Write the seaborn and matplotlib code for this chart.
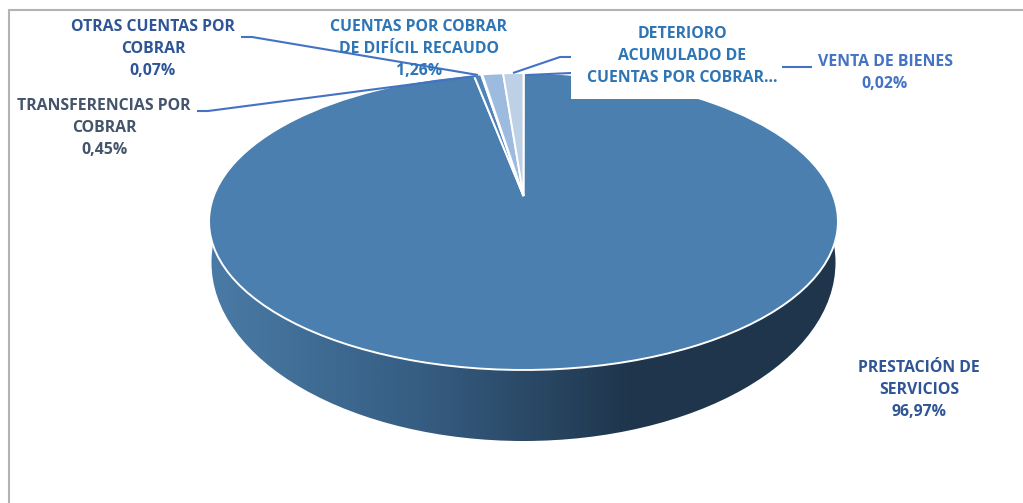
import numpy as np
import matplotlib
matplotlib.use("Agg")
import matplotlib.pyplot as plt
import seaborn as sns
from matplotlib.colors import LinearSegmentedColormap
from matplotlib.patches import Ellipse, Rectangle
from matplotlib.transforms import Transform

categories = ["VENTA DE BIENES", "PRESTACIÓN DE SERVICIOS", "TRANSFERENCIAS POR COBRAR",
              "OTRAS CUENTAS POR COBRAR", "CUENTAS POR COBRAR DE DIFÍCIL RECAUDO",
              "DETERIORO ACUMULADO DE CUENTAS POR COBRAR..."]
values = [0.02, 96.97, 0.45, 0.07, 1.26, 1.23]
slice_colors = ["#dbe5f1", "#4a7fb0", "#4f84b8", "#7da3d0", "#9dbbdf", "#bdd0e6"]
side_stops = ["#4a7ba6", "#3f6c94", "#365d82", "#2b4a68", "#1f364c", "#1e354b", "#1f364c"]

sns.set_theme(style="white")
plt.rcParams["font.family"] = ["Open Sans", "DejaVu Sans"]

W, H = 1023, 503
fig = plt.figure(figsize=(W / 100, H / 100), dpi=100, facecolor="white")
ax = fig.add_axes([0, 0, 1, 1])


class Perspective(Transform):
    """Tilted-disc view: unit pie coordinates to pixel coordinates."""
    input_dims = output_dims = 2
    is_separable = False
    has_inverse = False

    def __init__(self, cx, cy, a, b, k):
        super().__init__()
        self.cx, self.cy, self.a, self.b, self.k = cx, cy, a, b, k

    def transform_non_affine(self, values):
        v = np.asarray(values, dtype=float)
        w = 1 + self.k * v[:, 1]
        return np.column_stack([self.cx + self.b * v[:, 0] / w,
                                self.cy - self.a * v[:, 1] / w])


wedges, _ = ax.pie(values, colors=slice_colors, startangle=90, counterclock=False,
                   wedgeprops=dict(edgecolor="white", linewidth=1.4))
persp = Perspective(523.5, 196, 144.1, 309.8, 0.1717)
for w in wedges:
    w.set_transform(persp + ax.transData)
    w.set_zorder(3)

# side wall of the disc
cmap = LinearSegmentedColormap.from_list("side", side_stops)
wall = Ellipse((523.5, 262.5), 624, 357, transform=ax.transData, facecolor="none", edgecolor="none")
ax.add_patch(wall)
im = ax.imshow(np.linspace(0, 1, 512)[None, :], extent=(209, 838, 445, 150), cmap=cmap,
               aspect="auto", zorder=1)
im.set_clip_path(wall)

ax.set_aspect("auto")
ax.set_xlim(0, W)
ax.set_ylim(H, 0)
ax.axis("off")

# white box behind the truncated label
ax.add_patch(Rectangle((571, 18), 211, 81, facecolor="white", edgecolor="none", zorder=4))

# chart frame
frame = "#b3b3b3"
ax.plot([9, 9], [503, 10], color=frame, lw=1.5, zorder=5)
ax.plot([9, 1023], [10, 10], color=frame, lw=1.5, zorder=5)

# leader lines
leader = "#4472c4"
for xs, ys in [([241, 252, 478], [37, 37, 75]),
               ([197, 208, 476], [111, 111, 76]),
               ([513, 560, 571], [73, 57, 57]),
               ([527, 571], [75, 73]),
               ([782, 812], [67, 67])]:
    ax.plot(xs, ys, color=leader, lw=1.5, zorder=6, solid_capstyle="butt")

labels = [
    ("OTRAS CUENTAS POR\nCOBRAR\n0,07%", 153, 49, "#2f5597"),
    ("TRANSFERENCIAS POR\nCOBRAR\n0,45%", 104, 128, "#44546a"),
    ("CUENTAS POR COBRAR\nDE DIFÍCIL RECAUDO\n1,26%", 419, 49, "#2e75b6"),
    ("DETERIORO\nACUMULADO DE\nCUENTAS POR COBRAR...", 682, 56, "#2e75b6"),
    ("VENTA DE BIENES\n0,02%", 885, 73, "#4472c4"),
    ("PRESTACIÓN DE\nSERVICIOS\n96,97%", 919, 390, "#2f5597"),
]
for txt, x, y, col in labels:
    ax.text(x, y, txt, ha="center", va="center", color=col, fontsize=11.4, fontweight="bold",
            linespacing=1.5, zorder=7)

fig.savefig("out.png", dpi=100, facecolor="white")
